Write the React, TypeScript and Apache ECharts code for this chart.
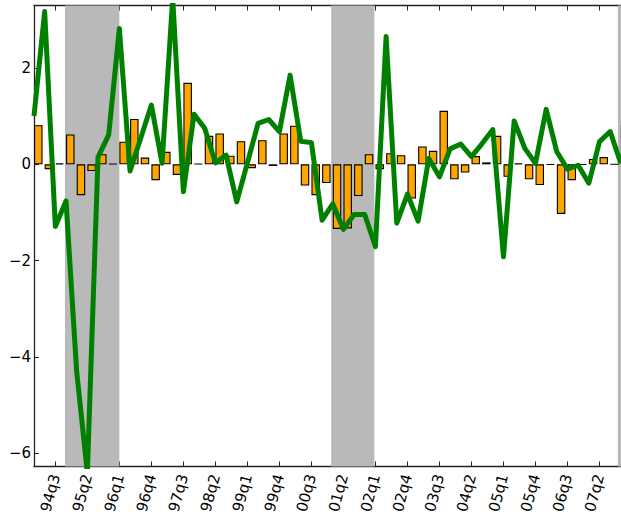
import React, { useEffect, useRef } from "react";
import * as echarts from "echarts";

// quarterly observations, 94q1 .. 07q4 (index 0..55)
const lineValues = [
  1.0, 3.17, -1.29, -0.76, -4.3, -6.4, 0.15, 0.61, 2.82, -0.14,
  0.54, 1.23, 0.02, 3.45, -0.57, 1.04, 0.75, 0.03, 0.19, -0.78,
  0.03, 0.85, 0.93, 0.68, 1.85, 0.48, 0.45, -1.16, -0.82, -1.35,
  -1.04, -1.04, -1.71, 2.65, -1.22, -0.62, -1.18, 0.12, -0.26, 0.32,
  0.42, 0.16, 0.43, 0.72, -1.92, 0.9, 0.33, 0.02, 1.14, 0.26,
  -0.1, -0.02, -0.39, 0.47, 0.68, 0.02,
];

const barValues = [
  0.81, -0.1, 0.02, 0.62, -0.64, -0.14, 0.21, 0.01, 0.47, 0.94,
  0.14, -0.33, 0.26, -0.22, 1.69, 0.01, 0.59, 0.64, 0.18, 0.48,
  -0.08, 0.5, -0.035, 0.64, 0.8, -0.44, -0.64, -0.39, -1.34, -1.33,
  -0.66, 0.21, -0.1, 0.23, 0.19, -0.71, 0.37, 0.28, 1.11, -0.31,
  -0.17, 0.17, 0.04, 0.59, -0.26, 0.02, -0.31, -0.43, -0.01, -1.03,
  -0.33, -0.01, 0.11, 0.15, 0.0, 0.81,
];

// tick labels every third quarter, first one at index 2 (94q3)
const tickLabels = [
  "94q3", "95q2", "96q1", "96q4", "97q3", "98q2", "99q1", "99q4", "00q3",
  "01q2", "02q1", "02q4", "03q3", "04q2", "05q1", "05q4", "06q3", "07q2",
];
const firstTickIndex = 2;
const tickStep = 3;

// shaded periods, in quarter-index units
const recessions = [
  [2.9, 8.0],
  [27.85, 31.9],
  [54.72, 60],
];

const yTicks = [-6, -4, -2, 0, 2];

export default function App() {
  const ref = useRef<HTMLDivElement>(null);
  useEffect(() => {
    document.body.style.margin = "0";
    const chart = echarts.init(ref.current!, null, { renderer: "svg" });
    const tickPositions = tickLabels.map((_, k) => firstTickIndex + k * tickStep);
    const axisColor = "#222";
    const font = "DejaVu Sans";
    chart.setOption({
      animation: false,
      grid: {
        left: 34,
        top: 5.5,
        height: 461,
        width: 640.2,
        containLabel: false,
        outerBoundsMode: "none",
      },
      xAxis: [
        {
          type: "value",
          min: 0,
          max: 60,
          position: "bottom",
          axisLine: { show: true, onZero: false, lineStyle: { color: axisColor, width: 1.3 } },
          axisTick: {
            show: true,
            inside: true,
            length: 5,
            customValues: tickPositions,
            lineStyle: { color: axisColor, width: 1 },
          },
          axisLabel: {
            show: true,
            customValues: tickPositions,
            rotate: 75,
            margin: 8,
            padding: [16, 0, 0, 0],
            fontFamily: font,
            fontSize: 15,
            color: "#000",
            formatter: (v: number) => tickLabels[Math.round((v - firstTickIndex) / tickStep)] ?? "",
          },
          splitLine: { show: false },
        },
        {
          type: "value",
          min: 0,
          max: 60,
          position: "top",
          axisLine: { show: true, onZero: false, lineStyle: { color: axisColor, width: 1.3 } },
          axisTick: {
            show: true,
            inside: true,
            length: 5,
            customValues: tickPositions,
            lineStyle: { color: axisColor, width: 1 },
          },
          axisLabel: { show: false },
          splitLine: { show: false },
        },
      ],
      yAxis: {
        type: "value",
        min: -6.27,
        max: 3.295,
        axisLine: { show: true, onZero: false, lineStyle: { color: axisColor, width: 1.3 } },
        axisTick: {
          show: true,
          inside: true,
          length: 5,
          customValues: yTicks,
          lineStyle: { color: axisColor, width: 1 },
        },
        axisLabel: {
          customValues: yTicks,
          margin: 3,
          fontFamily: font,
          fontSize: 15,
          color: "#000",
          formatter: (v: number) => (v < 0 ? "\u2212" + Math.abs(v) : String(v)),
        },
        splitLine: { show: false },
      },
      series: [
        {
          type: "line",
          data: [],
          z: 1,
          silent: true,
          markArea: {
            silent: true,
            itemStyle: { color: "#b9b9b9", opacity: 1 },
            data: recessions.map(([a, b]) => [{ xAxis: a }, { xAxis: b }]),
          },
        },
        {
          type: "bar",
          z: 3,
          barWidth: 8.5,
          data: barValues.map((v, i) => [i + 0.4, v]),
          itemStyle: { color: "#FFA500", borderColor: "#000", borderWidth: 1.1 },
          silent: true,
        },
        {
          type: "line",
          z: 4,
          symbol: "none",
          clip: true,
          data: lineValues.map((v, i) => [i, v]),
          lineStyle: { color: "#008000", width: 5, join: "round" },
          silent: true,
        },
      ],
    });
    return () => chart.dispose();
  }, []);
  return <div ref={ref} style={{ width: 621, height: 516 }} />;
}
